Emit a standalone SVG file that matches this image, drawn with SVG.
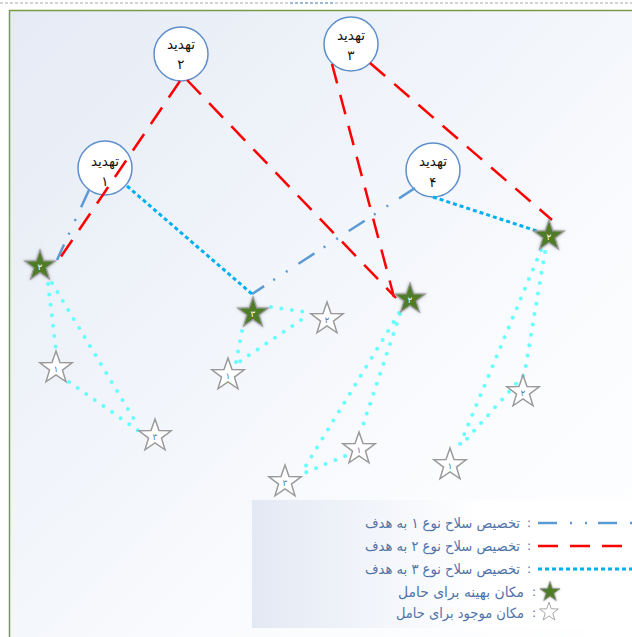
<svg xmlns="http://www.w3.org/2000/svg" xmlns:xlink="http://www.w3.org/1999/xlink" width="632" height="637" viewBox="0 0 632 637">
<style>
.node circle{fill:#fff;stroke:#5f8fcb;stroke-width:1.5}
.nt{font-family:"DejaVu Sans",sans-serif;font-size:13.5px;fill:#111;text-anchor:middle}
.t1{stroke:#5b9bd5;stroke-width:2.5;fill:none;stroke-dasharray:19 13 2 13 2 11}
.t2{stroke:#ff0000;stroke-width:2.5;fill:none;stroke-dasharray:20 12}
.t3{stroke:#00b0f0;stroke-width:3;fill:none;stroke-dasharray:4 3}
.cy{stroke:#66ffff;stroke-width:4;fill:none;stroke-dasharray:0 10.5;stroke-linecap:round}
.gs{fill:#4f7b28;stroke:#9c9c9c;stroke-width:1.3}
.hs{fill:#fff;stroke:#9a9a9a;stroke-width:1.5}
.gl{font-family:"DejaVu Sans",sans-serif;font-size:9px;fill:#fff;text-anchor:middle}
.hl{font-family:"DejaVu Sans",sans-serif;font-size:9px;fill:#4f81bd;text-anchor:middle}
.lg{font-family:"DejaVu Sans",sans-serif;font-size:14px;fill:#4f73a8}
.cl{font-family:"DejaVu Sans",sans-serif;font-size:12px;fill:#4f73a8}
</style>
<defs>
<linearGradient id="bg" x1="0" y1="0" x2="1" y2="1">
<stop offset="0" stop-color="#e5ebf5"/>
<stop offset="0.7" stop-color="#fbfcfe"/>
<stop offset="1" stop-color="#ffffff"/>
</linearGradient>
<linearGradient id="lgbg" x1="0" y1="0" x2="1" y2="0">
<stop offset="0" stop-color="#e3e9f4"/>
<stop offset="0.6" stop-color="#ffffff"/>
</linearGradient>
<filter id="sh" x="-50%" y="-50%" width="200%" height="200%">
<feDropShadow dx="0" dy="0" stdDeviation="1.5" flood-color="#777" flood-opacity="0.6"/>
</filter>
<path id="star" d="M0,-17 L4,-5.5 L16.17,-5.25 L6.47,2.1 L10,13.75 L0,6.8 L-10,13.75 L-6.47,2.1 L-16.17,-5.25 L-4,-5.5 Z"/>
</defs>

<rect x="0" y="0" width="632" height="637" fill="#fff"/>
<line x1="0" y1="3" x2="632" y2="3" stroke="#a0a8a8" stroke-width="1" stroke-dasharray="3 2"/>
<line x1="290" y1="3" x2="333" y2="3" stroke="#8fb0d8" stroke-width="1.5" stroke-dasharray="3 2"/>
<rect x="9.5" y="10.5" width="640" height="640" fill="url(#bg)" stroke="#7a9a48" stroke-width="1.5"/>

<g id="legend">
<rect x="252" y="500" width="380" height="128" fill="url(#lgbg)"/>
<line class="t1" x1="538" y1="523" x2="632" y2="523"/>
<line class="t2" x1="538" y1="546" x2="632" y2="546"/>
<line class="t3" x1="538" y1="569" x2="632" y2="569"/>
<use href="#star" class="gs" filter="url(#sh)" transform="translate(550,592) scale(0.62)"/>
<use href="#star" class="hs" transform="translate(549,612) scale(0.58)"/>
<text class="lg" x="520" y="528" text-anchor="end" textLength="155" lengthAdjust="spacingAndGlyphs">تخصیص سلاح نوع ۱ به هدف</text>
<text class="cl" x="527" y="527">:</text>
<text class="lg" x="520" y="551" text-anchor="end" textLength="155" lengthAdjust="spacingAndGlyphs">تخصیص سلاح نوع ۲ به هدف</text>
<text class="cl" x="527" y="550">:</text>
<text class="lg" x="520" y="574" text-anchor="end" textLength="155" lengthAdjust="spacingAndGlyphs">تخصیص سلاح نوع ۳ به هدف</text>
<text class="cl" x="527" y="573">:</text>
<text class="lg" x="524" y="597" text-anchor="end" textLength="126" lengthAdjust="spacingAndGlyphs">مکان بهینه  برای حامل</text>
<text class="cl" x="532" y="596">:</text>
<text class="lg" x="524" y="618" text-anchor="end" textLength="128" lengthAdjust="spacingAndGlyphs">مکان موجود برای حامل</text>
<text class="cl" x="532" y="617">:</text>
</g>

<g id="threat2" class="node"><circle cx="181" cy="54" r="27"/><text class="nt" x="181" y="49">تهدید</text><text class="nt" x="181" y="69">۲</text></g>
<g id="threat3" class="node"><circle cx="351" cy="44" r="27"/><text class="nt" x="351" y="40">تهدید</text><text class="nt" x="351" y="60">۳</text></g>
<g id="threat1" class="node"><circle cx="105" cy="168" r="27"/><text class="nt" x="105" y="166">تهدید</text><text class="nt" x="105" y="186">۱</text></g>
<g id="threat4" class="node"><circle cx="433" cy="170" r="27"/><text class="nt" x="433" y="166">تهدید</text><text class="nt" x="433" y="187">۴</text></g>

<g id="connectors">
<line class="t1" x1="89" y1="190" x2="57" y2="260"/>
<line class="t1" x1="415" y1="188" x2="252" y2="294"/>
<line class="t2" x1="180" y1="81" x2="56" y2="264"/>
<line class="t2" x1="187" y1="80" x2="396" y2="298"/>
<line class="t2" x1="332" y1="64" x2="394" y2="297"/>
<line class="t2" x1="370" y1="63" x2="552" y2="220"/>
<line class="t3" x1="127" y1="186" x2="252" y2="294"/>
<line class="t3" x1="433" y1="197" x2="537" y2="231"/>
<line class="cy" x1="48" y1="284" x2="56" y2="350"/>
<line class="cy" x1="52" y1="283" x2="137" y2="424"/>
<line class="cy" x1="69" y1="382" x2="139" y2="431"/>
<line class="cy" x1="271" y1="307" x2="312" y2="313"/>
<line class="cy" x1="242" y1="331" x2="236" y2="362"/>
<line class="cy" x1="301" y1="320" x2="236" y2="364"/>
<line class="cy" x1="399" y1="313" x2="302" y2="472"/>
<line class="cy" x1="400" y1="314" x2="361" y2="431"/>
<line class="cy" x1="345" y1="456" x2="302" y2="474"/>
<line class="cy" x1="541" y1="250" x2="458" y2="449"/>
<line class="cy" x1="545" y1="252" x2="524" y2="376"/>
<line class="cy" x1="523" y1="376" x2="465" y2="441"/>
</g>

<g id="opt1"><use href="#star" class="gs" filter="url(#sh)" transform="translate(40,266) scale(0.94)"/><text class="gl" x="40" y="270">۲</text></g>
<g id="opt2"><use href="#star" class="gs" filter="url(#sh)" transform="translate(253,313) scale(0.94)"/><text class="gl" x="253" y="317">۳</text></g>
<g id="opt3"><use href="#star" class="gs" filter="url(#sh)" transform="translate(410,299) scale(0.94)"/><text class="gl" x="410" y="303">۲</text></g>
<g id="opt4"><use href="#star" class="gs" filter="url(#sh)" transform="translate(549,236) scale(0.94)"/><text class="gl" x="549" y="240">۲</text></g>

<g id="ex1"><use href="#star" class="hs" transform="translate(56,368)"/><text class="hl" x="56" y="372">۱</text></g>
<g id="ex2"><use href="#star" class="hs" transform="translate(155,436)"/><text class="hl" x="155" y="440">۳</text></g>
<g id="ex3"><use href="#star" class="hs" transform="translate(327,319)"/><text class="hl" x="327" y="323">۲</text></g>
<g id="ex4"><use href="#star" class="hs" transform="translate(228,375)"/><text class="hl" x="228" y="379">۱</text></g>
<g id="ex5"><use href="#star" class="hs" transform="translate(285,482)"/><text class="hl" x="285" y="486">۳</text></g>
<g id="ex6"><use href="#star" class="hs" transform="translate(359,449)"/><text class="hl" x="359" y="453">۱</text></g>
<g id="ex7"><use href="#star" class="hs" transform="translate(450,465)"/><text class="hl" x="450" y="469">۱</text></g>
<g id="ex8"><use href="#star" class="hs" transform="translate(523,392)"/><text class="hl" x="523" y="396">۲</text></g>
</svg>
